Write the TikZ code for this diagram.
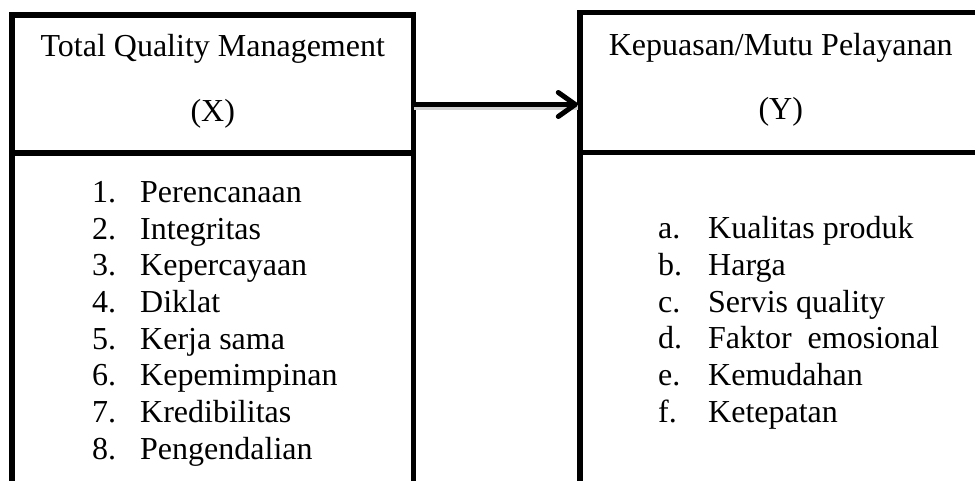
\documentclass[tikz,border=0pt]{standalone}
\usepackage{fontspec}
\setmainfont{Liberation Serif}
\usetikzlibrary{arrows.meta}
\begin{document}
\begin{tikzpicture}[x=1pt,y=-1pt,
  frame/.style={line width=5.5pt, line join=miter, draw=black},
  hdr/.style={draw=none, rectangle, inner sep=0pt, minimum width=401.5pt},
  txt/.style={font=\fontsize{32}{36}\selectfont, inner sep=0pt, text=black},
  item/.style={txt, anchor=base west},
  arr/.style={line width=5pt, -{Straight Barb[length=17pt,width=24pt,line cap=round,line join=round]},
    preaction={draw=black!18, line width=5pt, -, transform canvas={yshift=-3.5pt}}}
]
\useasboundingbox (0,0) rectangle (975,481);
\coordinate (bot) at (0,481);
\coordinate (rgt) at (975,0);
\coordinate (arrowy) at (0,104.5);

% header boxes
\node[hdr, minimum height=138pt] (X) at (212.75,84) {};
\node[hdr, minimum height=140pt] (Y) at (780.75,82.5) {};

% left box frame
\draw[frame] (X.south west |- bot) -- (X.north west) -- (X.north east) -- (X.south east |- bot);
\draw[frame] (X.south west) -- (X.south east);
% right box frame
\draw[frame] (Y.south west |- bot) -- (Y.north west) -- (Y.north west -| rgt);
\draw[frame] (Y.south west) -- (Y.south west -| rgt);

% titles
\node[txt, anchor=base] (xt1) at (212.75,57) {Total Quality Management};
\node[txt, anchor=base] (xt2) at (212.75,122) {(X)};
\node[txt, anchor=base] (yt1) at (780.75,55.5) {Kepuasan/Mutu Pelayanan};
\node[txt, anchor=base] (yt2) at (780.75,120) {(Y)};

% left list
\foreach \n/\t [count=\i] in {1/Perencanaan,2/Integritas,3/Kepercayaan,4/Diklat,5/Kerja sama,6/Kepemimpinan,7/Kredibilitas,8/Pengendalian}
  \node[item] (l\i) at (92,{202.5+36.65*(\i-1)}) {\makebox[48pt][l]{\n.}\t};

% right list
\foreach \n/\t [count=\i] in {a/Kualitas produk,b/Harga,c/Servis quality,d/Faktor\ \ emosional,e/Kemudahan,f/Ketepatan}
  \node[item] (r\i) at (658,{238.5+36.8*(\i-1)}) {\makebox[50pt][l]{\n.}\t};

% connector
\draw[arr] (X.east |- arrowy) -- ([xshift=-2pt]Y.west |- arrowy);
\end{tikzpicture}
\end{document}
